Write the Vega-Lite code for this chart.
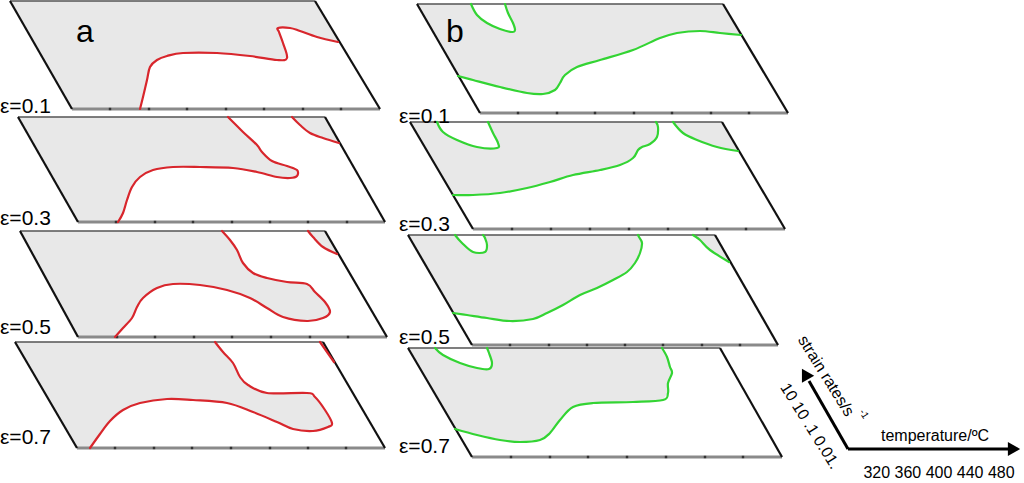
{
  "$schema": "https://vega.github.io/schema/vega-lite/v6.json",
  "width": 1024,
  "height": 483,
  "autosize": {"type": "none"},
  "padding": 0,
  "background": "white",
  "config": {"view": {"stroke": null}, "text": {"font": "Liberation Sans"}},
  "datasets": {
    "panels": [
      {"g":"a1","i":0,"x":10,"y":1},{"g":"a1","i":1,"x":315,"y":1},{"g":"a1","i":2,"x":380,"y":109},{"g":"a1","i":3,"x":72,"y":109},
      {"g":"a2","i":0,"x":18,"y":117},{"g":"a2","i":1,"x":325,"y":117},{"g":"a2","i":2,"x":385,"y":222},{"g":"a2","i":3,"x":78,"y":222},
      {"g":"a3","i":0,"x":20,"y":231},{"g":"a3","i":1,"x":325,"y":231},{"g":"a3","i":2,"x":387,"y":337},{"g":"a3","i":3,"x":78,"y":337},
      {"g":"a4","i":0,"x":15,"y":342},{"g":"a4","i":1,"x":323,"y":342},{"g":"a4","i":2,"x":385,"y":448},{"g":"a4","i":3,"x":77,"y":448},
      {"g":"b1","i":0,"x":417,"y":4},{"g":"b1","i":1,"x":723,"y":4},{"g":"b1","i":2,"x":788,"y":113},{"g":"b1","i":3,"x":480,"y":113},
      {"g":"b2","i":0,"x":410,"y":122},{"g":"b2","i":1,"x":722,"y":122},{"g":"b2","i":2,"x":785,"y":229},{"g":"b2","i":3,"x":473,"y":229},
      {"g":"b3","i":0,"x":408,"y":235},{"g":"b3","i":1,"x":715,"y":235},{"g":"b3","i":2,"x":778,"y":345},{"g":"b3","i":3,"x":472,"y":345},
      {"g":"b4","i":0,"x":408,"y":348},{"g":"b4","i":1,"x":720,"y":348},{"g":"b4","i":2,"x":782,"y":457},{"g":"b4","i":3,"x":472,"y":457}
    ],
    "white": [
      {"g":"wa1","i":0,"x":140,"y":109},{"g":"wa1","i":1,"x":143,"y":97},{"g":"wa1","i":2,"x":147,"y":80},{"g":"wa1","i":3,"x":150,"y":67},{"g":"wa1","i":4,"x":157,"y":60},{"g":"wa1","i":5,"x":167,"y":56},{"g":"wa1","i":6,"x":183,"y":53},{"g":"wa1","i":7,"x":217,"y":53},{"g":"wa1","i":8,"x":250,"y":56},{"g":"wa1","i":9,"x":277,"y":60},{"g":"wa1","i":10,"x":287,"y":58},{"g":"wa1","i":11,"x":283,"y":43},{"g":"wa1","i":12,"x":279,"y":32},{"g":"wa1","i":13,"x":278,"y":28},{"g":"wa1","i":14,"x":290,"y":28},{"g":"wa1","i":15,"x":300,"y":31},{"g":"wa1","i":16,"x":317,"y":37},{"g":"wa1","i":17,"x":338,"y":42},{"g":"wa1","i":18,"x":380,"y":109},

      {"g":"wa2","i":0,"x":118,"y":222},{"g":"wa2","i":1,"x":123,"y":213},{"g":"wa2","i":2,"x":127,"y":200},{"g":"wa2","i":3,"x":132,"y":187},{"g":"wa2","i":4,"x":140,"y":177},{"g":"wa2","i":5,"x":153,"y":170},{"g":"wa2","i":6,"x":173,"y":167},{"g":"wa2","i":7,"x":200,"y":167},{"g":"wa2","i":8,"x":233,"y":168},{"g":"wa2","i":9,"x":257,"y":172},{"g":"wa2","i":10,"x":277,"y":177},{"g":"wa2","i":11,"x":290,"y":178},{"g":"wa2","i":12,"x":297,"y":176},{"g":"wa2","i":13,"x":297,"y":170},{"g":"wa2","i":14,"x":287,"y":166},{"g":"wa2","i":15,"x":272,"y":161},{"g":"wa2","i":16,"x":262,"y":152},{"g":"wa2","i":17,"x":257,"y":145},{"g":"wa2","i":18,"x":243,"y":132},{"g":"wa2","i":19,"x":233,"y":122},{"g":"wa2","i":20,"x":228,"y":117},{"g":"wa2","i":21,"x":292,"y":117},{"g":"wa2","i":22,"x":300,"y":125},{"g":"wa2","i":23,"x":310,"y":133},{"g":"wa2","i":24,"x":323,"y":138},{"g":"wa2","i":25,"x":339,"y":143},{"g":"wa2","i":26,"x":385,"y":222},

      {"g":"wa3","i":0,"x":115,"y":337},{"g":"wa3","i":1,"x":123,"y":328},{"g":"wa3","i":2,"x":132,"y":318},{"g":"wa3","i":3,"x":137,"y":307},{"g":"wa3","i":4,"x":143,"y":298},{"g":"wa3","i":5,"x":157,"y":288},{"g":"wa3","i":6,"x":173,"y":284},{"g":"wa3","i":7,"x":200,"y":285},{"g":"wa3","i":8,"x":227,"y":290},{"g":"wa3","i":9,"x":250,"y":298},{"g":"wa3","i":10,"x":267,"y":308},{"g":"wa3","i":11,"x":283,"y":317},{"g":"wa3","i":12,"x":307,"y":321},{"g":"wa3","i":13,"x":323,"y":318},{"g":"wa3","i":14,"x":330,"y":312},{"g":"wa3","i":15,"x":325,"y":302},{"g":"wa3","i":16,"x":315,"y":292},{"g":"wa3","i":17,"x":307,"y":284},{"g":"wa3","i":18,"x":287,"y":282},{"g":"wa3","i":19,"x":267,"y":278},{"g":"wa3","i":20,"x":253,"y":273},{"g":"wa3","i":21,"x":243,"y":263},{"g":"wa3","i":22,"x":237,"y":250},{"g":"wa3","i":23,"x":230,"y":240},{"g":"wa3","i":24,"x":222,"y":231},{"g":"wa3","i":25,"x":308,"y":231},{"g":"wa3","i":26,"x":313,"y":237},{"g":"wa3","i":27,"x":323,"y":247},{"g":"wa3","i":28,"x":337,"y":254},{"g":"wa3","i":29,"x":387,"y":337},

      {"g":"wa4","i":0,"x":90,"y":448},{"g":"wa4","i":1,"x":100,"y":434},{"g":"wa4","i":2,"x":110,"y":421},{"g":"wa4","i":3,"x":123,"y":410},{"g":"wa4","i":4,"x":140,"y":403},{"g":"wa4","i":5,"x":167,"y":399},{"g":"wa4","i":6,"x":193,"y":400},{"g":"wa4","i":7,"x":227,"y":403},{"g":"wa4","i":8,"x":253,"y":412},{"g":"wa4","i":9,"x":277,"y":422},{"g":"wa4","i":10,"x":293,"y":429},{"g":"wa4","i":11,"x":313,"y":431},{"g":"wa4","i":12,"x":328,"y":427},{"g":"wa4","i":13,"x":332,"y":423},{"g":"wa4","i":14,"x":325,"y":410},{"g":"wa4","i":15,"x":315,"y":397},{"g":"wa4","i":16,"x":307,"y":393},{"g":"wa4","i":17,"x":267,"y":393},{"g":"wa4","i":18,"x":248,"y":385},{"g":"wa4","i":19,"x":240,"y":377},{"g":"wa4","i":20,"x":233,"y":363},{"g":"wa4","i":21,"x":223,"y":352},{"g":"wa4","i":22,"x":215,"y":342},{"g":"wa4","i":23,"x":320,"y":342},{"g":"wa4","i":24,"x":334,"y":362},{"g":"wa4","i":25,"x":385,"y":448},

      {"g":"wb1a","i":0,"x":458,"y":76},{"g":"wb1a","i":1,"x":473,"y":80},{"g":"wb1a","i":2,"x":500,"y":87},{"g":"wb1a","i":3,"x":527,"y":93},{"g":"wb1a","i":4,"x":543,"y":94},{"g":"wb1a","i":5,"x":555,"y":90},{"g":"wb1a","i":6,"x":560,"y":83},{"g":"wb1a","i":7,"x":565,"y":75},{"g":"wb1a","i":8,"x":577,"y":67},{"g":"wb1a","i":9,"x":600,"y":60},{"g":"wb1a","i":10,"x":633,"y":50},{"g":"wb1a","i":11,"x":660,"y":38},{"g":"wb1a","i":12,"x":677,"y":33},{"g":"wb1a","i":13,"x":700,"y":31},{"g":"wb1a","i":14,"x":720,"y":33},{"g":"wb1a","i":15,"x":741,"y":35},{"g":"wb1a","i":16,"x":788,"y":113},{"g":"wb1a","i":17,"x":480,"y":113},
      {"g":"wb1b","i":0,"x":471,"y":4},{"g":"wb1b","i":1,"x":477,"y":15},{"g":"wb1b","i":2,"x":487,"y":23},{"g":"wb1b","i":3,"x":500,"y":29},{"g":"wb1b","i":4,"x":512,"y":32},{"g":"wb1b","i":5,"x":515,"y":30},{"g":"wb1b","i":6,"x":513,"y":23},{"g":"wb1b","i":7,"x":508,"y":13},{"g":"wb1b","i":8,"x":505,"y":4},

      {"g":"wb2a","i":0,"x":453,"y":195},{"g":"wb2a","i":1,"x":473,"y":195},{"g":"wb2a","i":2,"x":500,"y":193},{"g":"wb2a","i":3,"x":527,"y":188},{"g":"wb2a","i":4,"x":550,"y":182},{"g":"wb2a","i":5,"x":573,"y":175},{"g":"wb2a","i":6,"x":600,"y":170},{"g":"wb2a","i":7,"x":620,"y":165},{"g":"wb2a","i":8,"x":633,"y":158},{"g":"wb2a","i":9,"x":638,"y":150},{"g":"wb2a","i":10,"x":642,"y":147},{"g":"wb2a","i":11,"x":650,"y":144},{"g":"wb2a","i":12,"x":657,"y":137},{"g":"wb2a","i":13,"x":658,"y":127},{"g":"wb2a","i":14,"x":656,"y":122},{"g":"wb2a","i":15,"x":673,"y":122},{"g":"wb2a","i":16,"x":683,"y":133},{"g":"wb2a","i":17,"x":697,"y":140},{"g":"wb2a","i":18,"x":717,"y":147},{"g":"wb2a","i":19,"x":738,"y":151},{"g":"wb2a","i":20,"x":785,"y":229},{"g":"wb2a","i":21,"x":473,"y":229},
      {"g":"wb2b","i":0,"x":437,"y":122},{"g":"wb2b","i":1,"x":443,"y":132},{"g":"wb2b","i":2,"x":457,"y":140},{"g":"wb2b","i":3,"x":477,"y":147},{"g":"wb2b","i":4,"x":497,"y":148},{"g":"wb2b","i":5,"x":498,"y":143},{"g":"wb2b","i":6,"x":493,"y":133},{"g":"wb2b","i":7,"x":488,"y":122},

      {"g":"wb3a","i":0,"x":453,"y":313},{"g":"wb3a","i":1,"x":467,"y":315},{"g":"wb3a","i":2,"x":487,"y":318},{"g":"wb3a","i":3,"x":510,"y":321},{"g":"wb3a","i":4,"x":533,"y":319},{"g":"wb3a","i":5,"x":547,"y":313},{"g":"wb3a","i":6,"x":563,"y":305},{"g":"wb3a","i":7,"x":580,"y":295},{"g":"wb3a","i":8,"x":597,"y":288},{"g":"wb3a","i":9,"x":613,"y":280},{"g":"wb3a","i":10,"x":627,"y":272},{"g":"wb3a","i":11,"x":635,"y":263},{"g":"wb3a","i":12,"x":640,"y":253},{"g":"wb3a","i":13,"x":642,"y":243},{"g":"wb3a","i":14,"x":639,"y":237},{"g":"wb3a","i":15,"x":638,"y":235},{"g":"wb3a","i":16,"x":693,"y":235},{"g":"wb3a","i":17,"x":700,"y":240},{"g":"wb3a","i":18,"x":710,"y":250},{"g":"wb3a","i":19,"x":729,"y":262},{"g":"wb3a","i":20,"x":778,"y":345},{"g":"wb3a","i":21,"x":472,"y":345},
      {"g":"wb3b","i":0,"x":455,"y":235},{"g":"wb3b","i":1,"x":462,"y":243},{"g":"wb3b","i":2,"x":473,"y":252},{"g":"wb3b","i":3,"x":485,"y":252},{"g":"wb3b","i":4,"x":487,"y":245},{"g":"wb3b","i":5,"x":485,"y":238},{"g":"wb3b","i":6,"x":483,"y":235},

      {"g":"wb4a","i":0,"x":455,"y":429},{"g":"wb4a","i":1,"x":477,"y":435},{"g":"wb4a","i":2,"x":500,"y":440},{"g":"wb4a","i":3,"x":520,"y":442},{"g":"wb4a","i":4,"x":540,"y":440},{"g":"wb4a","i":5,"x":550,"y":433},{"g":"wb4a","i":6,"x":560,"y":420},{"g":"wb4a","i":7,"x":573,"y":407},{"g":"wb4a","i":8,"x":593,"y":403},{"g":"wb4a","i":9,"x":633,"y":402},{"g":"wb4a","i":10,"x":663,"y":400},{"g":"wb4a","i":11,"x":668,"y":393},{"g":"wb4a","i":12,"x":668,"y":383},{"g":"wb4a","i":13,"x":672,"y":373},{"g":"wb4a","i":14,"x":670,"y":367},{"g":"wb4a","i":15,"x":667,"y":357},{"g":"wb4a","i":16,"x":662,"y":348},{"g":"wb4a","i":17,"x":720,"y":348},{"g":"wb4a","i":18,"x":782,"y":457},{"g":"wb4a","i":19,"x":472,"y":457},
      {"g":"wb4b","i":0,"x":435,"y":348},{"g":"wb4b","i":1,"x":443,"y":355},{"g":"wb4b","i":2,"x":460,"y":363},{"g":"wb4b","i":3,"x":477,"y":368},{"g":"wb4b","i":4,"x":489,"y":369},{"g":"wb4b","i":5,"x":492,"y":363},{"g":"wb4b","i":6,"x":489,"y":353},{"g":"wb4b","i":7,"x":487,"y":348}
    ],
    "curves": [
      {"c":"a1","p":"a","i":0,"x":140,"y":109},{"c":"a1","p":"a","i":1,"x":143,"y":97},{"c":"a1","p":"a","i":2,"x":147,"y":80},{"c":"a1","p":"a","i":3,"x":150,"y":67},{"c":"a1","p":"a","i":4,"x":157,"y":60},{"c":"a1","p":"a","i":5,"x":167,"y":56},{"c":"a1","p":"a","i":6,"x":183,"y":53},{"c":"a1","p":"a","i":7,"x":217,"y":53},{"c":"a1","p":"a","i":8,"x":250,"y":56},{"c":"a1","p":"a","i":9,"x":277,"y":60},{"c":"a1","p":"a","i":10,"x":287,"y":58},{"c":"a1","p":"a","i":11,"x":283,"y":43},{"c":"a1","p":"a","i":12,"x":279,"y":32},{"c":"a1","p":"a","i":13,"x":278,"y":28},{"c":"a1","p":"a","i":14,"x":290,"y":28},{"c":"a1","p":"a","i":15,"x":300,"y":31},{"c":"a1","p":"a","i":16,"x":317,"y":37},{"c":"a1","p":"a","i":17,"x":338,"y":42},

      {"c":"a2a","p":"a","i":0,"x":118,"y":222},{"c":"a2a","p":"a","i":1,"x":123,"y":213},{"c":"a2a","p":"a","i":2,"x":127,"y":200},{"c":"a2a","p":"a","i":3,"x":132,"y":187},{"c":"a2a","p":"a","i":4,"x":140,"y":177},{"c":"a2a","p":"a","i":5,"x":153,"y":170},{"c":"a2a","p":"a","i":6,"x":173,"y":167},{"c":"a2a","p":"a","i":7,"x":200,"y":167},{"c":"a2a","p":"a","i":8,"x":233,"y":168},{"c":"a2a","p":"a","i":9,"x":257,"y":172},{"c":"a2a","p":"a","i":10,"x":277,"y":177},{"c":"a2a","p":"a","i":11,"x":290,"y":178},{"c":"a2a","p":"a","i":12,"x":297,"y":176},{"c":"a2a","p":"a","i":13,"x":297,"y":170},{"c":"a2a","p":"a","i":14,"x":287,"y":166},{"c":"a2a","p":"a","i":15,"x":272,"y":161},{"c":"a2a","p":"a","i":16,"x":262,"y":152},{"c":"a2a","p":"a","i":17,"x":257,"y":145},{"c":"a2a","p":"a","i":18,"x":243,"y":132},{"c":"a2a","p":"a","i":19,"x":233,"y":122},{"c":"a2a","p":"a","i":20,"x":228,"y":117},
      {"c":"a2b","p":"a","i":0,"x":292,"y":117},{"c":"a2b","p":"a","i":1,"x":300,"y":125},{"c":"a2b","p":"a","i":2,"x":310,"y":133},{"c":"a2b","p":"a","i":3,"x":323,"y":138},{"c":"a2b","p":"a","i":4,"x":339,"y":143},

      {"c":"a3a","p":"a","i":0,"x":115,"y":337},{"c":"a3a","p":"a","i":1,"x":123,"y":328},{"c":"a3a","p":"a","i":2,"x":132,"y":318},{"c":"a3a","p":"a","i":3,"x":137,"y":307},{"c":"a3a","p":"a","i":4,"x":143,"y":298},{"c":"a3a","p":"a","i":5,"x":157,"y":288},{"c":"a3a","p":"a","i":6,"x":173,"y":284},{"c":"a3a","p":"a","i":7,"x":200,"y":285},{"c":"a3a","p":"a","i":8,"x":227,"y":290},{"c":"a3a","p":"a","i":9,"x":250,"y":298},{"c":"a3a","p":"a","i":10,"x":267,"y":308},{"c":"a3a","p":"a","i":11,"x":283,"y":317},{"c":"a3a","p":"a","i":12,"x":307,"y":321},{"c":"a3a","p":"a","i":13,"x":323,"y":318},{"c":"a3a","p":"a","i":14,"x":330,"y":312},{"c":"a3a","p":"a","i":15,"x":325,"y":302},{"c":"a3a","p":"a","i":16,"x":315,"y":292},{"c":"a3a","p":"a","i":17,"x":307,"y":284},{"c":"a3a","p":"a","i":18,"x":287,"y":282},{"c":"a3a","p":"a","i":19,"x":267,"y":278},{"c":"a3a","p":"a","i":20,"x":253,"y":273},{"c":"a3a","p":"a","i":21,"x":243,"y":263},{"c":"a3a","p":"a","i":22,"x":237,"y":250},{"c":"a3a","p":"a","i":23,"x":230,"y":240},{"c":"a3a","p":"a","i":24,"x":222,"y":231},
      {"c":"a3b","p":"a","i":0,"x":308,"y":231},{"c":"a3b","p":"a","i":1,"x":313,"y":237},{"c":"a3b","p":"a","i":2,"x":323,"y":247},{"c":"a3b","p":"a","i":3,"x":337,"y":254},

      {"c":"a4a","p":"a","i":0,"x":90,"y":448},{"c":"a4a","p":"a","i":1,"x":100,"y":434},{"c":"a4a","p":"a","i":2,"x":110,"y":421},{"c":"a4a","p":"a","i":3,"x":123,"y":410},{"c":"a4a","p":"a","i":4,"x":140,"y":403},{"c":"a4a","p":"a","i":5,"x":167,"y":399},{"c":"a4a","p":"a","i":6,"x":193,"y":400},{"c":"a4a","p":"a","i":7,"x":227,"y":403},{"c":"a4a","p":"a","i":8,"x":253,"y":412},{"c":"a4a","p":"a","i":9,"x":277,"y":422},{"c":"a4a","p":"a","i":10,"x":293,"y":429},{"c":"a4a","p":"a","i":11,"x":313,"y":431},{"c":"a4a","p":"a","i":12,"x":328,"y":427},{"c":"a4a","p":"a","i":13,"x":332,"y":423},{"c":"a4a","p":"a","i":14,"x":325,"y":410},{"c":"a4a","p":"a","i":15,"x":315,"y":397},{"c":"a4a","p":"a","i":16,"x":307,"y":393},{"c":"a4a","p":"a","i":17,"x":267,"y":393},{"c":"a4a","p":"a","i":18,"x":248,"y":385},{"c":"a4a","p":"a","i":19,"x":240,"y":377},{"c":"a4a","p":"a","i":20,"x":233,"y":363},{"c":"a4a","p":"a","i":21,"x":223,"y":352},{"c":"a4a","p":"a","i":22,"x":215,"y":342},
      {"c":"a4b","p":"a","i":0,"x":320,"y":342},{"c":"a4b","p":"a","i":1,"x":334,"y":362},

      {"c":"b1a","p":"b","i":0,"x":471,"y":4},{"c":"b1a","p":"b","i":1,"x":477,"y":15},{"c":"b1a","p":"b","i":2,"x":487,"y":23},{"c":"b1a","p":"b","i":3,"x":500,"y":29},{"c":"b1a","p":"b","i":4,"x":512,"y":32},{"c":"b1a","p":"b","i":5,"x":515,"y":30},{"c":"b1a","p":"b","i":6,"x":513,"y":23},{"c":"b1a","p":"b","i":7,"x":508,"y":13},{"c":"b1a","p":"b","i":8,"x":505,"y":4},
      {"c":"b1b","p":"b","i":0,"x":458,"y":76},{"c":"b1b","p":"b","i":1,"x":473,"y":80},{"c":"b1b","p":"b","i":2,"x":500,"y":87},{"c":"b1b","p":"b","i":3,"x":527,"y":93},{"c":"b1b","p":"b","i":4,"x":543,"y":94},{"c":"b1b","p":"b","i":5,"x":555,"y":90},{"c":"b1b","p":"b","i":6,"x":560,"y":83},{"c":"b1b","p":"b","i":7,"x":565,"y":75},{"c":"b1b","p":"b","i":8,"x":577,"y":67},{"c":"b1b","p":"b","i":9,"x":600,"y":60},{"c":"b1b","p":"b","i":10,"x":633,"y":50},{"c":"b1b","p":"b","i":11,"x":660,"y":38},{"c":"b1b","p":"b","i":12,"x":677,"y":33},{"c":"b1b","p":"b","i":13,"x":700,"y":31},{"c":"b1b","p":"b","i":14,"x":720,"y":33},{"c":"b1b","p":"b","i":15,"x":741,"y":35},

      {"c":"b2a","p":"b","i":0,"x":437,"y":122},{"c":"b2a","p":"b","i":1,"x":443,"y":132},{"c":"b2a","p":"b","i":2,"x":457,"y":140},{"c":"b2a","p":"b","i":3,"x":477,"y":147},{"c":"b2a","p":"b","i":4,"x":497,"y":148},{"c":"b2a","p":"b","i":5,"x":498,"y":143},{"c":"b2a","p":"b","i":6,"x":493,"y":133},{"c":"b2a","p":"b","i":7,"x":488,"y":122},
      {"c":"b2b","p":"b","i":0,"x":453,"y":195},{"c":"b2b","p":"b","i":1,"x":473,"y":195},{"c":"b2b","p":"b","i":2,"x":500,"y":193},{"c":"b2b","p":"b","i":3,"x":527,"y":188},{"c":"b2b","p":"b","i":4,"x":550,"y":182},{"c":"b2b","p":"b","i":5,"x":573,"y":175},{"c":"b2b","p":"b","i":6,"x":600,"y":170},{"c":"b2b","p":"b","i":7,"x":620,"y":165},{"c":"b2b","p":"b","i":8,"x":633,"y":158},{"c":"b2b","p":"b","i":9,"x":638,"y":150},{"c":"b2b","p":"b","i":10,"x":642,"y":147},{"c":"b2b","p":"b","i":11,"x":650,"y":144},{"c":"b2b","p":"b","i":12,"x":657,"y":137},{"c":"b2b","p":"b","i":13,"x":658,"y":127},{"c":"b2b","p":"b","i":14,"x":656,"y":122},
      {"c":"b2c","p":"b","i":0,"x":673,"y":122},{"c":"b2c","p":"b","i":1,"x":683,"y":133},{"c":"b2c","p":"b","i":2,"x":697,"y":140},{"c":"b2c","p":"b","i":3,"x":717,"y":147},{"c":"b2c","p":"b","i":4,"x":738,"y":151},

      {"c":"b3a","p":"b","i":0,"x":455,"y":235},{"c":"b3a","p":"b","i":1,"x":462,"y":243},{"c":"b3a","p":"b","i":2,"x":473,"y":252},{"c":"b3a","p":"b","i":3,"x":485,"y":252},{"c":"b3a","p":"b","i":4,"x":487,"y":245},{"c":"b3a","p":"b","i":5,"x":485,"y":238},{"c":"b3a","p":"b","i":6,"x":483,"y":235},
      {"c":"b3b","p":"b","i":0,"x":453,"y":313},{"c":"b3b","p":"b","i":1,"x":467,"y":315},{"c":"b3b","p":"b","i":2,"x":487,"y":318},{"c":"b3b","p":"b","i":3,"x":510,"y":321},{"c":"b3b","p":"b","i":4,"x":533,"y":319},{"c":"b3b","p":"b","i":5,"x":547,"y":313},{"c":"b3b","p":"b","i":6,"x":563,"y":305},{"c":"b3b","p":"b","i":7,"x":580,"y":295},{"c":"b3b","p":"b","i":8,"x":597,"y":288},{"c":"b3b","p":"b","i":9,"x":613,"y":280},{"c":"b3b","p":"b","i":10,"x":627,"y":272},{"c":"b3b","p":"b","i":11,"x":635,"y":263},{"c":"b3b","p":"b","i":12,"x":640,"y":253},{"c":"b3b","p":"b","i":13,"x":642,"y":243},{"c":"b3b","p":"b","i":14,"x":639,"y":237},{"c":"b3b","p":"b","i":15,"x":638,"y":235},
      {"c":"b3c","p":"b","i":0,"x":693,"y":235},{"c":"b3c","p":"b","i":1,"x":700,"y":240},{"c":"b3c","p":"b","i":2,"x":710,"y":250},{"c":"b3c","p":"b","i":3,"x":729,"y":262},

      {"c":"b4a","p":"b","i":0,"x":435,"y":348},{"c":"b4a","p":"b","i":1,"x":443,"y":355},{"c":"b4a","p":"b","i":2,"x":460,"y":363},{"c":"b4a","p":"b","i":3,"x":477,"y":368},{"c":"b4a","p":"b","i":4,"x":489,"y":369},{"c":"b4a","p":"b","i":5,"x":492,"y":363},{"c":"b4a","p":"b","i":6,"x":489,"y":353},{"c":"b4a","p":"b","i":7,"x":487,"y":348},
      {"c":"b4b","p":"b","i":0,"x":455,"y":429},{"c":"b4b","p":"b","i":1,"x":477,"y":435},{"c":"b4b","p":"b","i":2,"x":500,"y":440},{"c":"b4b","p":"b","i":3,"x":520,"y":442},{"c":"b4b","p":"b","i":4,"x":540,"y":440},{"c":"b4b","p":"b","i":5,"x":550,"y":433},{"c":"b4b","p":"b","i":6,"x":560,"y":420},{"c":"b4b","p":"b","i":7,"x":573,"y":407},{"c":"b4b","p":"b","i":8,"x":593,"y":403},{"c":"b4b","p":"b","i":9,"x":633,"y":402},{"c":"b4b","p":"b","i":10,"x":663,"y":400},{"c":"b4b","p":"b","i":11,"x":668,"y":393},{"c":"b4b","p":"b","i":12,"x":668,"y":383},{"c":"b4b","p":"b","i":13,"x":672,"y":373},{"c":"b4b","p":"b","i":14,"x":670,"y":367},{"c":"b4b","p":"b","i":15,"x":667,"y":357},{"c":"b4b","p":"b","i":16,"x":662,"y":348}
    ],
    "edges": [
      {"k":"side","x":10,"y":1,"x2":72,"y2":109},{"k":"side","x":315,"y":1,"x2":380,"y2":109},{"k":"top","x":10,"y":1,"x2":315,"y2":1},{"k":"bottom","x":72,"y":109,"x2":380,"y2":109},
      {"k":"side","x":18,"y":117,"x2":78,"y2":222},{"k":"side","x":325,"y":117,"x2":385,"y2":222},{"k":"top","x":18,"y":117,"x2":325,"y2":117},{"k":"bottom","x":78,"y":222,"x2":385,"y2":222},
      {"k":"side","x":20,"y":231,"x2":78,"y2":337},{"k":"side","x":325,"y":231,"x2":387,"y2":337},{"k":"top","x":20,"y":231,"x2":325,"y2":231},{"k":"bottom","x":78,"y":337,"x2":387,"y2":337},
      {"k":"side","x":15,"y":342,"x2":77,"y2":448},{"k":"side","x":323,"y":342,"x2":385,"y2":448},{"k":"top","x":15,"y":342,"x2":323,"y2":342},{"k":"bottom","x":77,"y":448,"x2":385,"y2":448},
      {"k":"side","x":417,"y":4,"x2":480,"y2":113},{"k":"side","x":723,"y":4,"x2":788,"y2":113},{"k":"top","x":417,"y":4,"x2":723,"y2":4},{"k":"bottom","x":480,"y":113,"x2":788,"y2":113},
      {"k":"side","x":410,"y":122,"x2":473,"y2":229},{"k":"side","x":722,"y":122,"x2":785,"y2":229},{"k":"top","x":410,"y":122,"x2":722,"y2":122},{"k":"bottom","x":473,"y":229,"x2":785,"y2":229},
      {"k":"side","x":408,"y":235,"x2":472,"y2":345},{"k":"side","x":715,"y":235,"x2":778,"y2":345},{"k":"top","x":408,"y":235,"x2":715,"y2":235},{"k":"bottom","x":472,"y":345,"x2":778,"y2":345},
      {"k":"side","x":408,"y":348,"x2":472,"y2":457},{"k":"side","x":720,"y":348,"x2":782,"y2":457},{"k":"top","x":408,"y":348,"x2":720,"y2":348},{"k":"bottom","x":472,"y":457,"x2":782,"y2":457},
      {"k":"arrow","x":848,"y":449,"x2":1010,"y2":449},{"k":"arrow","x":848,"y":449,"x2":809,"y2":381}
    ],
    "ticks": [
      {"x":110,"y":109},{"x":149,"y":109},{"x":187,"y":109},{"x":226,"y":109},{"x":264,"y":109},{"x":303,"y":109},{"x":341,"y":109},
      {"x":116,"y":222},{"x":155,"y":222},{"x":193,"y":222},{"x":232,"y":222},{"x":270,"y":222},{"x":308,"y":222},{"x":347,"y":222},
      {"x":117,"y":337},{"x":155,"y":337},{"x":194,"y":337},{"x":232,"y":337},{"x":271,"y":337},{"x":310,"y":337},{"x":348,"y":337},
      {"x":115,"y":448},{"x":154,"y":448},{"x":192,"y":448},{"x":231,"y":448},{"x":270,"y":448},{"x":308,"y":448},{"x":346,"y":448},
      {"x":518,"y":113},{"x":557,"y":113},{"x":595,"y":113},{"x":634,"y":113},{"x":672,"y":113},{"x":711,"y":113},{"x":749,"y":113},
      {"x":512,"y":229},{"x":551,"y":229},{"x":590,"y":229},{"x":629,"y":229},{"x":668,"y":229},{"x":707,"y":229},{"x":746,"y":229},
      {"x":510,"y":345},{"x":549,"y":345},{"x":587,"y":345},{"x":625,"y":345},{"x":663,"y":345},{"x":702,"y":345},{"x":740,"y":345},
      {"x":511,"y":457},{"x":550,"y":457},{"x":588,"y":457},{"x":627,"y":457},{"x":666,"y":457},{"x":705,"y":457},{"x":743,"y":457}
    ]
  },
  "encoding": {
    "x": {"field": "x", "type": "quantitative", "scale": {"domain": [0, 1024], "nice": false, "zero": false}, "axis": null},
    "y": {"field": "y", "type": "quantitative", "scale": {"domain": [0, 483], "nice": false, "zero": false, "reverse": true}, "axis": null}
  },
  "layer": [
    {
      "data": {"name": "panels"},
      "mark": {"type": "line", "interpolate": "linear-closed", "fill": "#e8e8e8", "stroke": "#e8e8e8", "strokeWidth": 0.5},
      "encoding": {"detail": {"field": "g"}, "order": {"field": "i", "type": "quantitative"}}
    },
    {
      "data": {"name": "white"},
      "mark": {"type": "line", "interpolate": "linear-closed", "fill": "white", "stroke": "white", "strokeWidth": 0.5},
      "encoding": {"detail": {"field": "g"}, "order": {"field": "i", "type": "quantitative"}}
    },
    {
      "data": {"name": "edges"},
      "transform": [{"filter": "datum.k === 'top'"}],
      "mark": {"type": "rule", "color": "#555555", "strokeWidth": 1.4},
      "encoding": {"x2": {"field": "x2"}, "y2": {"field": "y2"}}
    },
    {
      "data": {"name": "edges"},
      "transform": [{"filter": "datum.k === 'bottom'"}],
      "mark": {"type": "rule", "color": "#8a8a8a", "strokeWidth": 3},
      "encoding": {"x2": {"field": "x2"}, "y2": {"field": "y2"}}
    },
    {
      "data": {"name": "ticks"},
      "mark": {"type": "point", "shape": "square", "filled": true, "color": "#333333", "size": 6, "opacity": 1},
      "encoding": {}
    },
    {
      "data": {"name": "edges"},
      "transform": [{"filter": "datum.k === 'side'"}],
      "mark": {"type": "rule", "color": "#111111", "strokeWidth": 2.2},
      "encoding": {"x2": {"field": "x2"}, "y2": {"field": "y2"}}
    },
    {
      "data": {"name": "curves"},
      "transform": [{"filter": "datum.p === 'a'"}],
      "mark": {"type": "line", "interpolate": "cardinal", "color": "#d8262c", "strokeWidth": 2.2, "strokeJoin": "round", "strokeCap": "round"},
      "encoding": {"detail": {"field": "c"}, "order": {"field": "i", "type": "quantitative"}}
    },
    {
      "data": {"name": "curves"},
      "transform": [{"filter": "datum.p === 'b'"}],
      "mark": {"type": "line", "interpolate": "cardinal", "color": "#33d433", "strokeWidth": 2.2, "strokeJoin": "round", "strokeCap": "round"},
      "encoding": {"detail": {"field": "c"}, "order": {"field": "i", "type": "quantitative"}}
    },
    {
      "data": {"name": "edges"},
      "transform": [{"filter": "datum.k === 'arrow'"}],
      "mark": {"type": "rule", "color": "#000000", "strokeWidth": 3},
      "encoding": {"x2": {"field": "x2"}, "y2": {"field": "y2"}}
    },
    {
      "data": {"values": [{"x": 1014, "y": 449}]},
      "mark": {"type": "point", "shape": "triangle-right", "filled": true, "color": "#000000", "size": 200, "opacity": 1},
      "encoding": {}
    },
    {
      "data": {"values": [{"x": 805, "y": 374}]},
      "mark": {"type": "point", "shape": "triangle-up", "filled": true, "color": "#000000", "size": 200, "opacity": 1, "angle": 330},
      "encoding": {}
    },
    {
      "data": {"values": [
        {"x": 0, "y": 113, "t": "ε=0.1"}, {"x": 0, "y": 225, "t": "ε=0.3"}, {"x": 0, "y": 334, "t": "ε=0.5"}, {"x": 0, "y": 444, "t": "ε=0.7"},
        {"x": 399, "y": 123, "t": "ε=0.1"}, {"x": 399, "y": 231, "t": "ε=0.3"}, {"x": 399, "y": 344, "t": "ε=0.5"}, {"x": 399, "y": 453, "t": "ε=0.7"}
      ]},
      "mark": {"type": "text", "align": "left", "baseline": "alphabetic", "fontSize": 21, "color": "#000000"},
      "encoding": {"text": {"field": "t"}}
    },
    {
      "data": {"values": [{"x": 85, "y": 42, "t": "a"}, {"x": 455, "y": 42, "t": "b"}]},
      "mark": {"type": "text", "align": "center", "baseline": "alphabetic", "fontSize": 32, "color": "#000000"},
      "encoding": {"text": {"field": "t"}}
    },
    {
      "data": {"values": [{"x": 935, "y": 441, "t": "temperature/ºC"}, {"x": 939, "y": 478, "t": "320 360 400  440 480"}]},
      "mark": {"type": "text", "align": "center", "baseline": "alphabetic", "fontSize": 16, "color": "#000000"},
      "encoding": {"text": {"field": "t"}}
    },
    {
      "data": {"values": [{"x": 826, "y": 376, "t": "strain rates/s"}, {"x": 810, "y": 426, "t": "10 10 .1 0.01."}]},
      "mark": {"type": "text", "align": "center", "baseline": "middle", "fontSize": 16, "angle": 58, "color": "#000000"},
      "encoding": {"text": {"field": "t"}}
    },
    {
      "data": {"values": [{"x": 864, "y": 414, "t": "-1"}]},
      "mark": {"type": "text", "align": "center", "baseline": "middle", "fontSize": 10, "angle": 58, "color": "#000000"},
      "encoding": {"text": {"field": "t"}}
    }
  ]
}
